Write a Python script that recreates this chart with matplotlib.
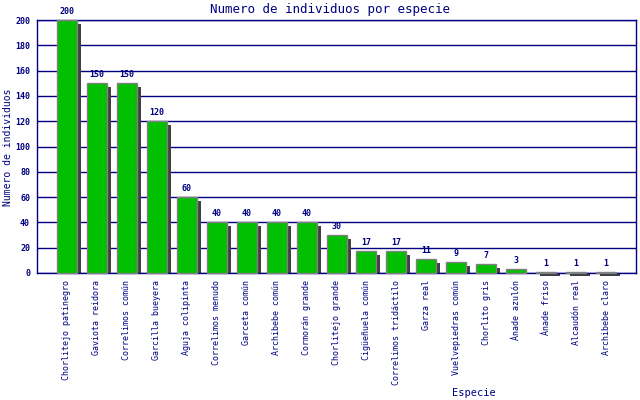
import matplotlib
matplotlib.use("Agg")
import matplotlib.pyplot as plt

especies = [
    "Chorlitejo patinegro", "Gaviota reidora", "Correlimos común",
    "Garcilla bueyera", "Aguja colipinta", "Correlimos menudo",
    "Garceta común", "Archibebe común", "Cormorán grande",
    "Chorlitejo grande", "Cigüeñuela común", "Correlimos tridáctilo",
    "Garza real", "Vuelvepiedras común", "Chorlito gris",
    "Ánade azulón", "Ánade friso", "Alcaudón real", "Archibebe claro",
]
individuos = [200, 150, 150, 120, 60, 40, 40, 40, 40, 30, 17, 17, 11, 9, 7, 3, 1, 1, 1]

NAVY = "#000080"
GREEN = "#00c000"
SHADOW = "#404040"
FONT = "DejaVu Sans Mono"

fig = plt.figure(figsize=(6.4, 4.0), dpi=100)
ax = fig.add_axes([37 / 640, 127 / 400, 599 / 640, 253 / 400])

n = len(especies)
x = list(range(n))
ymax = 200
ax.set_xlim(-1, n)
ax.set_ylim(0, ymax)

# shadow offset of 4 px, converted to data units
px_x = (n + 1) / 599
px_y = ymax / 253
dx = 4 * px_x
dy = 4 * px_y
width = 20 * px_x

ax.bar([i + dx for i in x], [v - dy for v in individuos], width=width,
       color=SHADOW, zorder=2, clip_on=False)
ax.bar(x, individuos, width=width, color=GREEN, edgecolor="#808080",
       linewidth=1, zorder=3, clip_on=False)

for i, v in zip(x, individuos):
    ax.text(i, v + 4 * px_y, str(v), ha="center", va="bottom", fontsize=6,
            fontweight="bold", color=NAVY, family=FONT)

ax.set_yticks(range(0, 201, 20))
ax.yaxis.grid(True, color=NAVY, linewidth=1)
ax.set_axisbelow(True)
ax.set_xticks(x)
ax.set_xticklabels(especies, rotation=90, fontsize=6, color=NAVY, family=FONT)
for lbl in ax.get_yticklabels():
    lbl.set_fontsize(6)
    lbl.set_fontweight("bold")
    lbl.set_color(NAVY)
    lbl.set_family(FONT)
ax.tick_params(axis="both", length=0, pad=5)
for s in ax.spines.values():
    s.set_color(NAVY)
    s.set_linewidth(1)

fig.text(330 / 640, 1 - 10 / 400, "Numero de individuos por especie",
         ha="center", va="center", fontsize=9, color=NAVY, family=FONT)
fig.text(8 / 640, 1 - 147 / 400, "Numero de individuos", rotation=90,
         ha="center", va="center", fontsize=7, color=NAVY, family=FONT)
fig.text(474 / 640, 1 - 393 / 400, "Especie", ha="center", va="center",
         fontsize=7.5, color=NAVY, family=FONT)

fig.savefig("out.png", dpi=100)
